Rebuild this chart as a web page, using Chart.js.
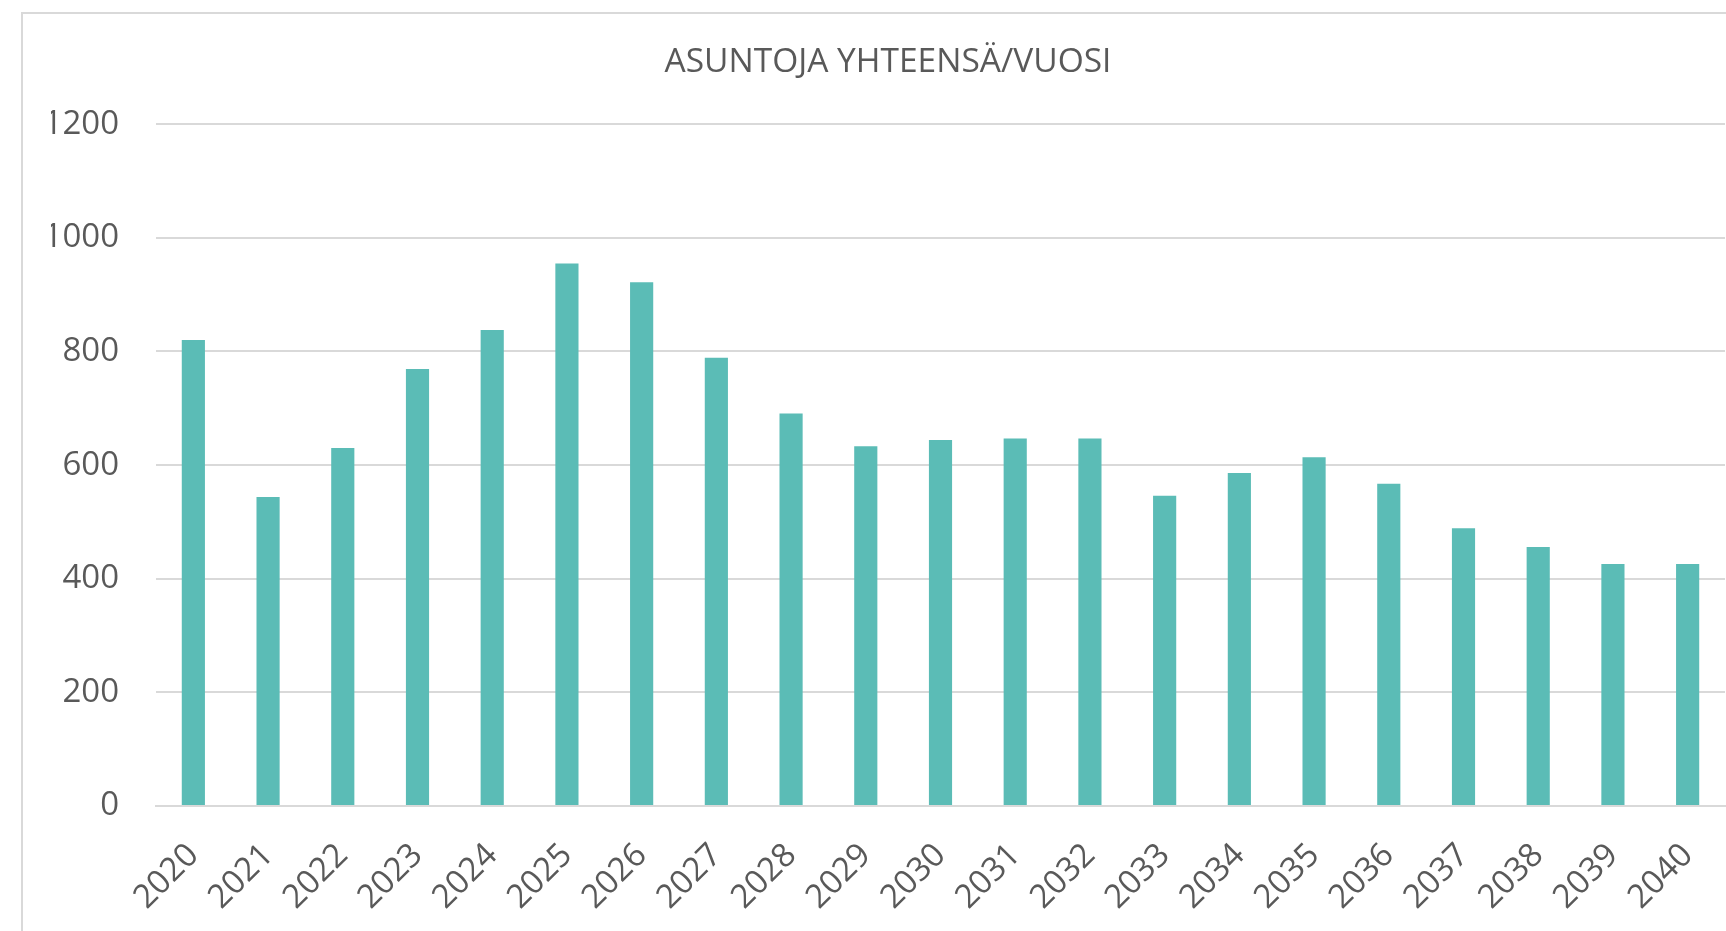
<!DOCTYPE html>
<html>
<head>
<meta charset="utf-8">
<script src="https://cdn.jsdelivr.net/npm/chart.js@4"></script>
<style>
  html, body { margin: 0; padding: 0; background: #fff; overflow: hidden; width: 1726px; height: 931px; }
  #frame { position: absolute; left: 21px; top: 12px; width: 1760px; height: 960px; border: 2px solid #d9d9d9; box-sizing: border-box; }
  #chart { position: absolute; left: 0; top: 0; }
</style>
</head>
<body>
<div id="frame"><canvas id="chart" width="1703" height="917"></canvas></div>
<script>
// chart values
const chartTitle = 'ASUNTOJA YHTEENSÄ/VUOSI';
const years = ['2020', '2021', '2022', '2023', '2024', '2025', '2026', '2027', '2028', '2029', '2030',
               '2031', '2032', '2033', '2034', '2035', '2036', '2037', '2038', '2039', '2040'];
const dwellings = [820, 544, 630, 769, 838, 955, 922, 789, 691, 633, 644,
                   647, 647, 546, 586, 614, 567, 489, 456, 426, 426];
const yTicks = [0, 200, 400, 600, 800, 1000, 1200];

const textColor = '#595959';
const gridColor = '#d9d9d9';
const barColor = '#5bbcb6';
const fontFamily = '"Open Sans", "DejaVu Sans", sans-serif';

const ctx = document.getElementById('chart').getContext('2d');
new Chart(ctx, {
    type: 'bar',
    data: {
        labels: years,
        datasets: [{
            label: chartTitle,
            data: dwellings,
            backgroundColor: barColor,
            borderWidth: 0,
            categoryPercentage: 1,
            barPercentage: 0.31
        }]
    },
    options: {
        responsive: false,
        animation: false,
        layout: { padding: { left: 28, right: 1, top: 0, bottom: 0 } },
        plugins: {
            legend: { display: false },
            tooltip: { enabled: false },
            title: {
                display: true,
                text: chartTitle,
                color: textColor,
                font: { family: fontFamily, size: 33.5, weight: 'normal' },
                padding: { top: 28, bottom: 42 }
            }
        },
        scales: {
            x: {
                grid: { display: false, drawTicks: false },
                border: { display: true, color: gridColor, width: 2 },
                ticks: {
                    color: textColor,
                    font: { family: fontFamily, size: 33 },
                    maxRotation: 45,
                    minRotation: 45,
                    padding: 30
                },
                afterFit: (scale) => {
                    scale.height = 125;
                    // rotated labels fit inside the frame, keep the plot full width
                    scale.paddingLeft = 0;
                    scale.paddingRight = 0;
                }
            },
            y: {
                min: 0,
                max: 1200,
                afterBuildTicks: (scale) => { scale.ticks = yTicks.map(v => ({ value: v })); },
                grid: { color: gridColor, lineWidth: 2, drawTicks: false },
                border: { display: false },
                ticks: {
                    color: textColor,
                    font: { family: fontFamily, size: 33 },
                    padding: 37,
                    callback: (v) => String(v)
                },
                afterFit: (scale) => { scale.width = 105; }
            }
        }
    }
});
</script>
</body>
</html>
